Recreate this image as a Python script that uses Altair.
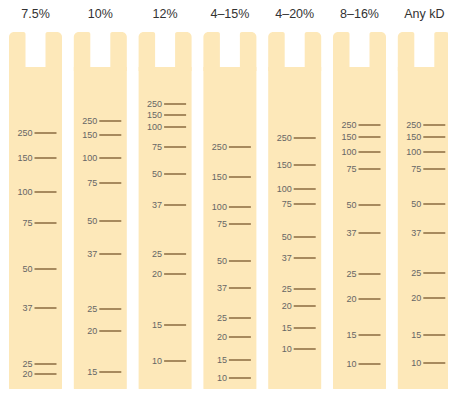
import altair as alt
import pandas as pd

# ---- data ----
gels = ["7.5%", "10%", "12%", "4–15%", "4–20%", "8–16%", "Any kD"]

kd_75 = [250, 150, 100, 75, 50, 37, 25, 20]
pos_75 = [133, 158, 192, 223, 269, 308, 364, 374]

kd_10 = [250, 150, 100, 75, 50, 37, 25, 20, 15]
pos_10 = [121, 135, 158, 183, 221, 254, 309, 331, 372]

kd_12 = [250, 150, 100, 75, 50, 37, 25, 20, 15, 10]
pos_12 = [104, 115, 127, 147, 174, 205, 254, 274, 325, 361]

kd_415 = [250, 150, 100, 75, 50, 37, 25, 20, 15, 10]
pos_415 = [147, 177, 207, 224, 261, 288, 318, 337, 360, 378]

kd_420 = [250, 150, 100, 75, 50, 37, 25, 20, 15, 10]
pos_420 = [138, 165, 189, 204, 237, 258, 289, 306, 328, 349]

kd_816 = [250, 150, 100, 75, 50, 37, 25, 20, 15, 10]
pos_816 = [125, 137, 152, 169, 205, 233, 274, 299, 335, 364]

kd_any = [250, 150, 100, 75, 50, 37, 25, 20, 15, 10]
pos_any = [125, 137, 152, 169, 204, 233, 273, 298, 335, 363]

lane_kd = [kd_75, kd_10, kd_12, kd_415, kd_420, kd_816, kd_any]
lane_pos = [pos_75, pos_10, pos_12, pos_415, pos_420, pos_816, pos_any]

# ---- layout constants (migration scale units) ----
W, H = 440, 381
Y_MIN, Y_MAX = 8, 389
SPACING = 64.8
X_MIN = -27.5 / SPACING
X_MAX = X_MIN + W / SPACING
HALF = 26.5 / SPACING   # half lane width
NOTCH = 10 / SPACING    # half notch width
TOP, NOTCH_BOT, BOTTOM = 32, 67, 392
TITLE_Y = 14

FILL = "#fde8b9"
BAND = "#a78a5e"

lanes = pd.DataFrame({"gel": gels, "i": list(range(len(gels)))})
lanes["l"] = lanes["i"] - HALF
lanes["r"] = lanes["i"] + HALF
lanes["nl"] = lanes["i"] - NOTCH
lanes["nr"] = lanes["i"] + NOTCH
lanes["top"] = TOP
lanes["nb"] = NOTCH_BOT
lanes["nb2"] = NOTCH_BOT + 4
lanes["bot"] = BOTTOM
lanes["ty"] = TITLE_Y

rows = []
for i, (kds, ps) in enumerate(zip(lane_kd, lane_pos)):
    for k, p in zip(kds, ps):
        rows.append({"i": i, "kd": str(k), "pos": p,
                     "b1": i - 1 / SPACING, "b2": i + 21 / SPACING,
                     "lx": i - 3 / SPACING})
bands = pd.DataFrame(rows)

xs = alt.Scale(domain=[X_MIN, X_MAX], nice=False, zero=False)
ys = alt.Scale(domain=[Y_MIN, Y_MAX], reverse=True, nice=False, zero=False)

base_l = alt.Chart(lanes)
body = base_l.mark_rect(color=FILL, cornerRadiusBottomLeft=4, cornerRadiusBottomRight=4).encode(
    x=alt.X("l:Q", scale=xs, axis=None), x2="r:Q",
    y=alt.Y("nb:Q", scale=ys, axis=None), y2="bot:Q")
prong_l = base_l.mark_rect(color=FILL, cornerRadiusTopLeft=5, cornerRadiusTopRight=2).encode(
    x=alt.X("l:Q", scale=xs, axis=None), x2="nl:Q",
    y=alt.Y("top:Q", scale=ys, axis=None), y2="nb2:Q")
prong_r = base_l.mark_rect(color=FILL, cornerRadiusTopRight=5, cornerRadiusTopLeft=2).encode(
    x=alt.X("nr:Q", scale=xs, axis=None), x2="r:Q",
    y=alt.Y("top:Q", scale=ys, axis=None), y2="nb2:Q")
titles = base_l.mark_text(fontSize=12.5, color="#333333", font="Liberation Sans",
                          baseline="middle", align="center").encode(
    x=alt.X("i:Q", scale=xs, axis=None),
    y=alt.Y("ty:Q", scale=ys, axis=None),
    text="gel:N")

base_b = alt.Chart(bands)
rules = base_b.mark_rule(color=BAND, strokeWidth=2).encode(
    x=alt.X("b1:Q", scale=xs, axis=None), x2="b2:Q",
    y=alt.Y("pos:Q", scale=ys, axis=None))
labels = base_b.mark_text(fontSize=9, color="#666666", font="Liberation Sans",
                          align="right", baseline="middle").encode(
    x=alt.X("lx:Q", scale=xs, axis=None),
    y=alt.Y("pos:Q", scale=ys, axis=None),
    text="kd:N")

chart = alt.layer(body, prong_l, prong_r, titles, rules, labels).properties(
    width=W, height=H,
    autosize=alt.AutoSizeParams(type="none"),
    padding=0,
    background="white",
).configure_view(strokeWidth=0)

chart.save("out.html", embed_options={"renderer": "svg", "actions": False})
